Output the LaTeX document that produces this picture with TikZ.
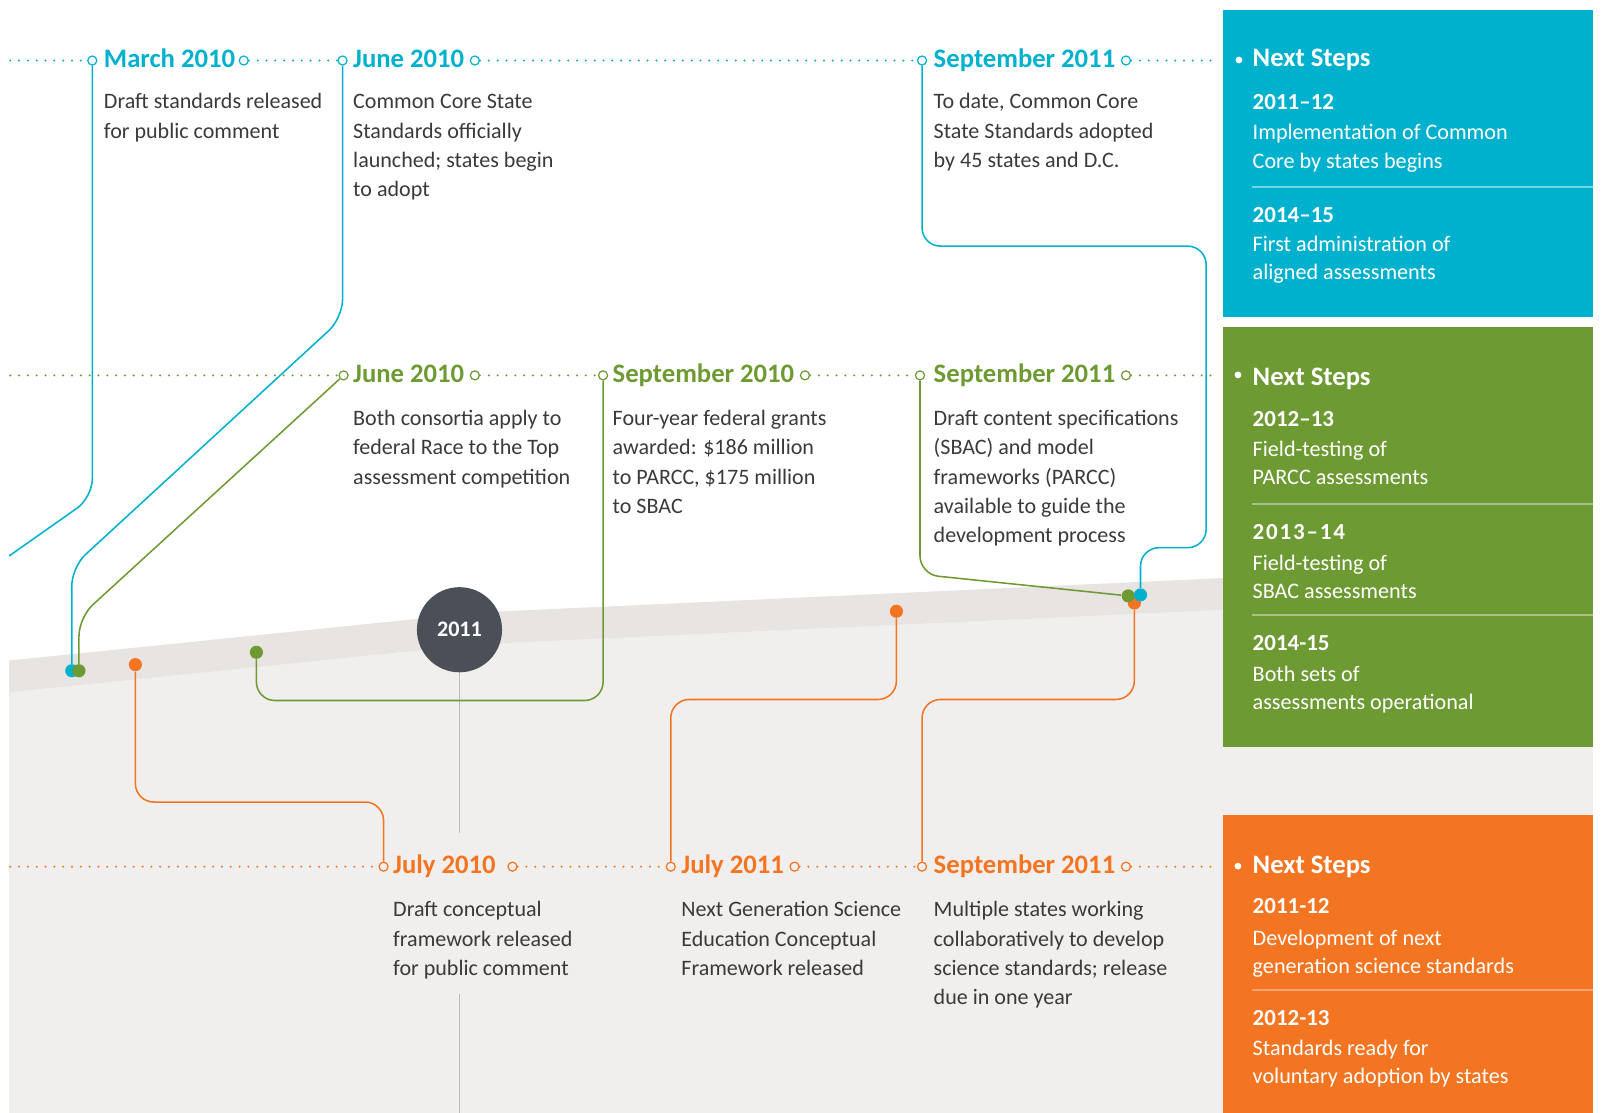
\documentclass[tikz,border=0pt]{standalone}
\usepackage{fontspec}
\setmainfont{Carlito}
\usetikzlibrary{positioning}

\definecolor{ccsblue}{HTML}{00B1CE}
\definecolor{ccsgreen}{HTML}{6E9A33}
\definecolor{ccsorange}{HTML}{F47521}
\definecolor{disc}{HTML}{4B4F58}
\definecolor{bodytext}{HTML}{3A3A3A}
\definecolor{paper}{HTML}{F0EFED}
\definecolor{band}{HTML}{E7E4E1}
\definecolor{stem}{HTML}{BDBDBD}

\tikzset{
  dots/.style={line width=1.1pt, line cap=round, dash pattern=on 0pt off 4.3pt},
  ring/.style={circle, draw, fill=white, line width=0.6pt, inner sep=0pt, minimum size=4.4pt},
  pin/.style={circle, fill, inner sep=0pt, minimum size=6.4pt},
  datelabel/.style={anchor=base west, inner sep=0pt, font=\fontsize{13}{15}\selectfont\bfseries},
  % multi-line texts sit on the baseline of their last line
  body/.style={anchor=base west, inner sep=0pt, align=left, text=bodytext,
    font=\fontsize{10.75}{14.3}\selectfont},
  link/.style={line width=0.75pt, rounded corners=9pt},
  stepshead/.style={anchor=base west, inner sep=0pt, text=white, font=\fontsize{13}{15}\selectfont\bfseries},
  stepsyear/.style={anchor=base west, inner sep=0pt, text=white, font=\fontsize{11.2}{13}\selectfont\bfseries},
  stepstext/.style={anchor=base west, inner sep=0pt, align=left, text=white,
    font=\fontsize{10.8}{13.75}\selectfont},
}

\begin{document}
\begin{tikzpicture}[x=0.5pt,y=-0.5pt]
\useasboundingbox (0,0) rectangle (1561,1085);
% grey ground and the sloped band
\fill[paper] (9,675) -- (470,628) -- (1553,578) -- (1553,1085) -- (9,1085) -- cycle;
\fill[band] (9,644) -- (470,597) -- (1553,547) -- (1553,578) -- (470,628) -- (9,675) -- cycle;

% next steps panels
\fill[ccsblue] (1192,10) rectangle (1553,309);
\fill[ccsgreen] (1192,319) rectangle (1553,728);
\fill[ccsorange] (1192,795) rectangle (1553,1085);

% year marker
\draw[stem, line width=0.8pt] (448,640) -- (448,812);
\coordinate (stemlow) at (448,969);
\coordinate (stemend) at (448,1085);
\draw[stem, line width=0.8pt] (stemlow) -- (stemend);
\node[circle, fill=disc, minimum size=41.5pt, inner sep=0pt, text=white,
  font=\fontsize{10.8}{12}\selectfont\bfseries] (year) at (448,614) {2011};

% Common Core row
\coordinate (cstart) at (10,59);
\node[ring, draw=ccsblue] (c1) at (90,59) {};
\node[datelabel, text=ccsblue] (t1) at (101,66) {March 2010};
\node[ring, draw=ccsblue] (c1e) at ([xshift=4pt]t1.base east |- c1) {};
\node[ring, draw=ccsblue] (c2) at (334,59) {};
\node[datelabel, text=ccsblue] (t2) at (344,66) {June 2010};
\node[ring, draw=ccsblue] (c2e) at ([xshift=5pt]t2.base east |- c2) {};
\node[ring, draw=ccsblue] (c3) at (899,59) {};
\node[datelabel, text=ccsblue] (t3) at (910,66) {September 2011};
\node[ring, draw=ccsblue] (c3e) at ([xshift=5pt]t3.base east |- c3) {};
\coordinate (cend) at (1186,59);
\draw[dots, ccsblue] (cstart) -- (c1) (c1e) -- (c2) (c2e) -- (c3) (c3e) -- (cend);
\node[body] (b1) at (101,134.6) {Draft standards released\\for public comment};
\node[body] (b2) at (344,191.8) {Common Core State\\Standards officially\\launched; states begin\\to adopt};
\node[body] (b3) at (910,163.2) {To date, Common Core\\State Standards adopted\\by 45 states and D.C.};

% assessment row
\coordinate (gstart) at (10,366);
\node[ring, draw=ccsgreen] (g1) at (335,366) {};
\node[datelabel, text=ccsgreen] (u1) at (344,373) {June 2010};
\node[ring, draw=ccsgreen] (g1e) at ([xshift=5pt]u1.base east |- g1) {};
\node[ring, draw=ccsgreen] (g2) at (588,366) {};
\node[datelabel, text=ccsgreen] (u2) at (597,373) {September 2010};
\node[ring, draw=ccsgreen] (g2e) at ([xshift=5pt]u2.base east |- g2) {};
\node[ring, draw=ccsgreen] (g3) at (897,366) {};
\node[datelabel, text=ccsgreen] (u3) at (910,373) {September 2011};
\node[ring, draw=ccsgreen] (g3e) at ([xshift=5pt]u3.base east |- g3) {};
\coordinate (gend) at (1186,366);
\draw[dots, ccsgreen] (gstart) -- (g1) (g1e) -- (g2) (g2e) -- (g3) (g3e) -- (gend);
\node[body] (d1) at (344,472.2) {Both consortia apply to\\federal Race to the Top\\assessment competition};
\node[body] (d2) at (597,500.8) {Four-year federal grants\\awarded: \$186 million\\to PARCC, \$175 million\\to SBAC};
\node[body] (d3) at (910,529.4) {Draft content specifications\\(SBAC) and model\\frameworks (PARCC)\\available to guide the\\development process};

% science row
\coordinate (ostart) at (10,845);
\node[ring, draw=ccsorange, fill=paper] (o1) at (374,845) {};
\node[datelabel, text=ccsorange] (v1) at (383,852) {July 2010};
\node[ring, draw=ccsorange, fill=paper] (o1e) at ([xshift=8pt]v1.base east |- o1) {};
\node[ring, draw=ccsorange, fill=paper] (o2) at (654,845) {};
\node[datelabel, text=ccsorange] (v2) at (664,852) {July 2011};
\node[ring, draw=ccsorange, fill=paper] (o2e) at ([xshift=5pt]v2.base east |- o2) {};
\node[ring, draw=ccsorange, fill=paper] (o3) at (899,845) {};
\node[datelabel, text=ccsorange] (v3) at (910,852) {September 2011};
\node[ring, draw=ccsorange, fill=paper] (o3e) at ([xshift=5pt]v3.base east |- o3) {};
\coordinate (oend) at (1186,845);
\draw[dots, ccsorange] (ostart) -- (o1) (o1e) -- (o2) (o2e) -- (o3) (o3e) -- (oend);
\node[body] (s1) at (383,951.2) {Draft conceptual\\framework released\\for public comment};
\node[body] (s2) at (664,951.2) {Next Generation Science\\Education Conceptual\\Framework released};
\node[body] (s3) at (910,979.8) {Multiple states working\\collaboratively to develop\\science standards; release\\due in one year};

% links down to the band
\coordinate (cfree) at (9,542);
\draw[link, ccsblue] (c1) -- (90,485) -- (cfree);
\node[pin, ccsblue] (p1) at (70,654) {};
\draw[link, ccsblue] (c2) -- (334,310) -- (70,553) -- (p1);
\node[pin, ccsgreen] (p2) at (77,654) {};
\draw[link, ccsgreen] (g1) -- (77,602) -- (p2);
\node[pin, ccsgreen] (p3) at (250,636) {};
\draw[link, ccsgreen] (g2) -- (588,683) -- (250,683) -- (p3);
\node[pin, ccsorange] (p4) at (132,648) {};
\draw[link, ccsorange] (p4) -- (132,782) -- (374,782) -- (o1);
\node[pin, ccsorange] (p5) at (874,596) {};
\draw[link, ccsorange] (p5) -- (874,682) -- (654,682) -- (o2);
\node[pin, ccsorange] (p6) at (1106,588) {};
\draw[link, ccsorange] (p6) -- (1106,682) -- (899,682) -- (o3);
\node[pin, ccsgreen] (p7) at (1100,581) {};
\draw[link, ccsgreen] (g3) -- (897,560) -- (p7);
\node[pin, ccsblue] (p8) at (1112,580) {};
\draw[link, ccsblue] (c3) -- (899,240) -- (1176,240) -- (1176,534) -- (1112,534) -- (p8);

% Common Core next steps
\fill[white] (1208,58.5) circle (1.65pt);
\node[stepshead] (h1) at (1221,65) {Next Steps};
\node[stepsyear] at (1221,106.5) {2011–12};
\node[stepstext] at (1221,164) {Implementation of Common\\Core by states begins};
\draw[white!45!ccsblue, line width=0.75pt] (1221,182.5) -- (1553,182.5);
\node[stepsyear] at (1221,216.5) {2014–15};
\node[stepstext] at (1221,273) {First administration of\\aligned assessments};

% assessment next steps
\fill[white] (1207,365.5) circle (1.65pt);
\node[stepshead] (h2) at (1221,375.5) {Next Steps};
\node[stepsyear] at (1221,415.5) {2012–13};
\node[stepstext] at (1221,472.5) {Field-testing of\\PARCC assessments};
\draw[white!40!ccsgreen, line width=0.75pt] (1221,491.5) -- (1553,491.5);
\node[stepsyear] at (1221,526.5) {\addfontfeature{LetterSpace=8}2013–14};
\node[stepstext] at (1221,583.9) {Field-testing of\\SBAC assessments};
\draw[white!40!ccsgreen, line width=0.75pt] (1221,599.6) -- (1553,599.6);
\node[stepsyear] at (1221,634.7) {2014-15};
\node[stepstext] at (1221,692.1) {Both sets of\\assessments operational};

% science next steps
\fill[white] (1207,844.5) circle (1.65pt);
\node[stepshead] (h3) at (1221,851.5) {Next Steps};
\node[stepsyear] at (1221,891) {2011-12};
\node[stepstext] at (1221,948.9) {Development of next\\generation science standards};
\draw[white!35!ccsorange, line width=0.75pt] (1221,965) -- (1553,965);
\node[stepsyear] at (1221,999.4) {2012-13};
\node[stepstext] at (1221,1056.8) {Standards ready for\\voluntary adoption by states};
\end{tikzpicture}
\end{document}
